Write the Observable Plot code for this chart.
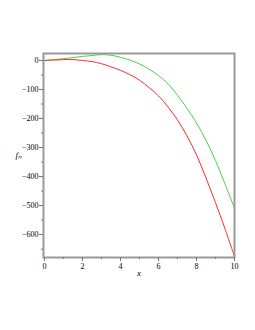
<!DOCTYPE html>
<html>
<head>
<meta charset="utf-8">
<script src="https://cdn.jsdelivr.net/npm/d3@7"></script>
<script src="https://cdn.jsdelivr.net/npm/@observablehq/plot@0.6"></script>
<style>
  body { margin: 0; background: #fff; }
</style>
</head>
<body>
<div id="chart"></div>
<script>
const xs = [0, 0.5, 1, 1.5, 2, 2.5, 3, 3.5, 4, 4.5, 5, 5.5, 6, 6.5, 7, 7.5, 8, 8.5, 9, 9.5, 10];
const redValues = [0, 1.5, 3, 3, 0, -4, -11, -22, -34, -49, -68, -93, -122, -160, -205, -260, -325, -405, -490, -580, -676];
const greenValues = [0, 3, 6, 10, 14, 17, 20, 18, 11, 1, -12, -30, -52, -80, -120, -165, -215, -275, -345, -425, -510];
const xTicks = [0, 2, 4, 6, 8, 10];
const xMinor = [1, 3, 5, 7, 9];
const yTicks = [0, -100, -200, -300, -400, -500, -600];
const yMinor = [-50, -150, -250, -350, -450, -550, -650];

const red = xs.map((x, i) => ({x, y: redValues[i]}));
const green = xs.map((x, i) => ({x, y: greenValues[i]}));

const font = "Liberation Serif, Times New Roman, serif";

const plot = Plot.plot({
  width: 255,
  height: 330,
  marginLeft: 43,
  marginRight: 21,
  marginTop: 53,
  marginBottom: 73,
  style: {fontFamily: font, fontSize: "8px", background: "#fff", color: "#000"},
  x: {domain: [-0.05, 10], label: null},
  y: {domain: [-679, 24], label: null},
  marks: [
    Plot.line(green, {x: "x", y: "y", stroke: "#44d444", strokeWidth: 1, curve: "catmull-rom"}),
    Plot.line(red, {x: "x", y: "y", stroke: "#ff2a2a", strokeWidth: 1, curve: "catmull-rom"}),
    Plot.frame({stroke: "#999", strokeWidth: 2}),
    Plot.axisX({ticks: xTicks, tickSize: 4, tickPadding: 2, stroke: "#777", fontFamily: font, fontSize: 8, label: null}),
    Plot.axisX({ticks: xMinor, tickSize: 2, text: null, stroke: "#777", label: null}),
    Plot.axisY({ticks: yTicks, tickSize: 4, tickPadding: 1, stroke: "#777", fontFamily: font, fontSize: 8, label: null}),
    Plot.axisY({ticks: yMinor, tickSize: 2, text: null, stroke: "#777", label: null}),
    Plot.text(["x"], {frameAnchor: "bottom", dy: 18, fontStyle: "italic", fontFamily: font, fontSize: 9}),
    Plot.text(["fₙ"], {frameAnchor: "left", dx: -28, fontStyle: "italic", fontFamily: font, fontSize: 9})
  ]
});
document.getElementById("chart").appendChild(plot);
</script>
</body>
</html>
